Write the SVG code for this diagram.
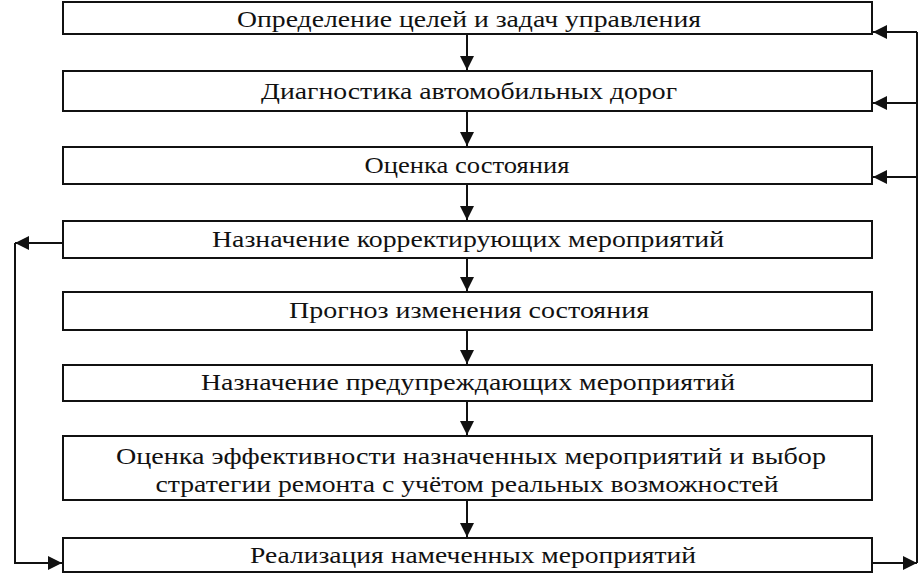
<svg xmlns="http://www.w3.org/2000/svg" width="920" height="574" viewBox="0 0 920 574">
<defs>
<style>
.b{fill:#fff;stroke:#111;stroke-width:2}
.t{font-family:"Liberation Serif",serif;font-size:24px;fill:#111;text-anchor:middle}
.c{fill:none;stroke:#111;stroke-width:2}
</style>
<marker id="a" viewBox="0 0 10 10" refX="10" refY="5" markerWidth="7" markerHeight="7" orient="auto" markerUnits="strokeWidth"><path d="M0,0L10,5L0,10z" fill="#111"/></marker>
</defs>
<rect width="920" height="574" fill="#fff"/>
<g id="n1"><rect class="b" x="63" y="2" width="809" height="32"/><text class="t" x="469" y="27" textLength="464" lengthAdjust="spacingAndGlyphs">Определение целей и задач управления</text></g>
<g id="n2"><rect class="b" x="63" y="71" width="809" height="40"/><text class="t" x="469" y="99" textLength="416" lengthAdjust="spacingAndGlyphs">Диагностика автомобильных дорог</text></g>
<g id="n3"><rect class="b" x="63" y="147" width="809" height="37"/><text class="t" x="467" y="173" textLength="205" lengthAdjust="spacingAndGlyphs">Оценка состояния</text></g>
<g id="n4"><rect class="b" x="63" y="221" width="809" height="37"/><text class="t" x="468" y="247" textLength="512" lengthAdjust="spacingAndGlyphs">Назначение корректирующих мероприятий</text></g>
<g id="n5"><rect class="b" x="63" y="292" width="809" height="38"/><text class="t" x="469" y="318" textLength="360" lengthAdjust="spacingAndGlyphs">Прогноз изменения состояния</text></g>
<g id="n6"><rect class="b" x="63" y="365" width="809" height="36"/><text class="t" x="468" y="390" textLength="534" lengthAdjust="spacingAndGlyphs">Назначение предупреждающих мероприятий</text></g>
<g id="n7"><rect class="b" x="63" y="436" width="809" height="64"/><text class="t" x="471" y="464" textLength="710" lengthAdjust="spacingAndGlyphs">Оценка эффективности назначенных мероприятий и выбор</text><text class="t" x="467" y="492" textLength="623" lengthAdjust="spacingAndGlyphs">стратегии ремонта с учётом реальных возможностей</text></g>
<g id="n8"><rect class="b" x="63" y="538" width="809" height="34"/><text class="t" x="473" y="563" textLength="446" lengthAdjust="spacingAndGlyphs">Реализация намеченных мероприятий</text></g>
<g id="connectors">
<line class="c" x1="467" y1="34" x2="467" y2="70" marker-end="url(#a)"/>
<line class="c" x1="467" y1="111" x2="467" y2="146" marker-end="url(#a)"/>
<line class="c" x1="467" y1="184" x2="467" y2="220" marker-end="url(#a)"/>
<line class="c" x1="467" y1="258" x2="467" y2="291" marker-end="url(#a)"/>
<line class="c" x1="467" y1="330" x2="467" y2="364" marker-end="url(#a)"/>
<line class="c" x1="467" y1="401" x2="467" y2="435" marker-end="url(#a)"/>
<line class="c" x1="467" y1="500" x2="467" y2="537" marker-end="url(#a)"/>
<line class="c" x1="872" y1="563" x2="917" y2="563" marker-end="url(#a)"/>
<polyline class="c" points="917,563 917,32"/>
<line class="c" x1="917" y1="32" x2="873" y2="32" marker-end="url(#a)"/>
<line class="c" x1="917" y1="103" x2="873" y2="103" marker-end="url(#a)"/>
<line class="c" x1="917" y1="177" x2="873" y2="177" marker-end="url(#a)"/>
<line class="c" x1="63" y1="243" x2="15" y2="243" marker-end="url(#a)"/>
<polyline class="c" points="15,243 15,563 62,563" marker-end="url(#a)"/>
</g>
</svg>
